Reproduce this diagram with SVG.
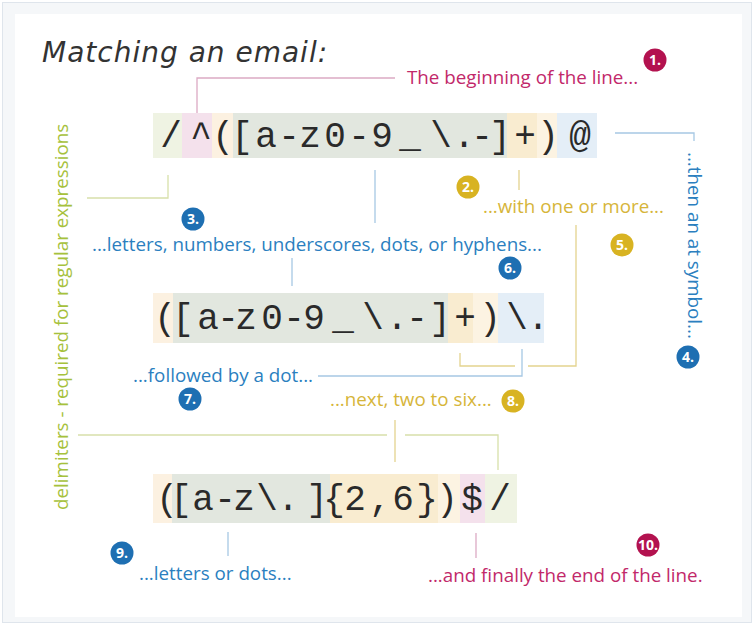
<svg xmlns="http://www.w3.org/2000/svg" width="756" height="627" viewBox="0 0 756 627">
<style>
.code{font-family:"Liberation Mono","DejaVu Sans Mono",monospace;font-size:36px;fill:#2a2a2a;text-anchor:middle}
.lbl{font-family:"Open Sans","DejaVu Sans",sans-serif;font-size:18.8px}
.pink{fill:#c2286a}.blue{fill:#2b7fbf}.yel{fill:#d6b53a}.grn{fill:#a6c13c}
.bt{font-family:"Open Sans","DejaVu Sans",sans-serif;font-size:14px;font-weight:bold;fill:#fff;text-anchor:middle}
.ln{fill:none;stroke-width:1.3}
.lp{stroke:#dcaac4}.lb{stroke:#a6c8e4}.ly{stroke:#e4d38e}.lg{stroke:#d8e0aa}
</style>
<rect x="2.5" y="2.5" width="749" height="620" fill="#f5f7f9" stroke="#dfe5ec"/>
<rect x="15" y="14" width="727" height="603" fill="#ffffff"/>
<g id="title"><text x="42" y="62" font-family="DejaVu Sans, sans-serif" font-size="28" letter-spacing="1" fill="#333" font-style="italic">Matching an email:</text></g>
<g id="connectors">
<path class="ln lp" d="M197,113 V78 H395"/>
<path class="ln lb" d="M615,133 H694 V141"/>
<path class="ln ly" d="M519,170 V190"/>
<path class="ln lb" d="M375,170 V223"/>
<path class="ln lg" d="M168,175 V198 H87"/>
<path class="ln lb" d="M292,258 V286"/>
<path class="ln ly" d="M576,225 V366 H528 M515,366 H460 V353"/>
<path class="ln lb" d="M522,349 V376 H318"/>
<path class="ln ly" d="M395,420 V462"/>
<path class="ln lg" d="M78,435 H387 M405,435 H498 V470"/>
<path class="ln lb" d="M228,532 V556"/>
<path class="ln lp" d="M476,533 V558"/>
</g>
<g id="row1">
<rect x="153" y="113" width="29" height="45" fill="#eff3e3"/>
<rect x="182" y="113" width="30" height="45" fill="#f4e1ec"/>
<rect x="212" y="113" width="21" height="45" fill="#fcf1e1"/>
<rect x="233" y="113" width="274" height="45" fill="#e2e7df"/>
<rect x="507" y="113" width="30" height="45" fill="#f9ecd0"/>
<rect x="537" y="113" width="20" height="45" fill="#fcf3e2"/>
<rect x="557" y="113" width="40" height="45" fill="#e4eef7"/>
<text class="code" y="147" x="171 201 223 242 266 289 310 335 359 382 410 441 464 482 500 525 548 580">/^([a-z0-9_\.-]+)@</text>
</g>
<g id="row2">
<rect x="153" y="293" width="20" height="50" fill="#fcf1e1"/>
<rect x="173" y="293" width="275" height="50" fill="#e2e7df"/>
<rect x="448" y="293" width="25" height="50" fill="#f9ecd0"/>
<rect x="473" y="293" width="25" height="50" fill="#fcf3e2"/>
<rect x="498" y="293" width="46" height="50" fill="#e4eef7"/>
<text class="code" y="329" x="165 183 208 228 246 272 294 314 343 373 397 417 440 465 490 517 538">([a-z0-9_\.-]+)\.</text>
</g>
<g id="row3">
<rect x="153" y="474" width="19" height="49" fill="#fcf1e1"/>
<rect x="172" y="474" width="158" height="49" fill="#e2e7df"/>
<rect x="330" y="474" width="108" height="49" fill="#f9ecd0"/>
<rect x="438" y="474" width="22" height="49" fill="#fcf3e2"/>
<rect x="460" y="474" width="25" height="49" fill="#f4e1ec"/>
<rect x="485" y="474" width="32" height="49" fill="#eff3e3"/>
<text class="code" y="510" x="167 181 203 225 244 267 288 317 334 355 380 403 427 447 472 500">([a-z\.]{2,6})$/</text>
</g>
<g id="label1"><text class="lbl pink" x="407" y="84">The beginning of the line...</text><circle cx="655" cy="60" r="11.5" fill="#b3124f"/><text class="bt" x="655" y="65">1.</text></g>
<g id="label2"><text class="lbl yel" x="483" y="213">...with one or more...</text><circle cx="468" cy="187" r="11.5" fill="#d8b322"/><text class="bt" x="468" y="192">2.</text></g>
<g id="label3"><text class="lbl blue" x="92" y="251">...letters, numbers, underscores, dots, or hyphens...</text><circle cx="193" cy="219" r="11.5" fill="#1e6fb2"/><text class="bt" x="193" y="224">3.</text></g>
<g id="label4"><text class="lbl blue" transform="translate(688,152) rotate(90)">...then an at symbol...</text><circle cx="688" cy="357" r="11.5" fill="#1e6fb2"/><text class="bt" x="688" y="362">4.</text></g>
<g id="label5"><circle cx="622" cy="245" r="11.5" fill="#d8b322"/><text class="bt" x="622" y="250">5.</text></g>
<g id="label6"><circle cx="510" cy="268" r="11.5" fill="#1e6fb2"/><text class="bt" x="510" y="273">6.</text></g>
<g id="label7"><text class="lbl blue" x="133" y="382">...followed by a dot...</text><circle cx="190" cy="399" r="11.5" fill="#1e6fb2"/><text class="bt" x="190" y="404">7.</text></g>
<g id="label8"><text class="lbl yel" x="330" y="406">...next, two to six...</text><circle cx="513" cy="401" r="11.5" fill="#d8b322"/><text class="bt" x="513" y="406">8.</text></g>
<g id="label9"><text class="lbl blue" x="139" y="580">...letters or dots...</text><circle cx="122" cy="553" r="11.5" fill="#1e6fb2"/><text class="bt" x="122" y="558">9.</text></g>
<g id="label10"><text class="lbl pink" x="428" y="582">...and finally the end of the line.</text><circle cx="648" cy="545" r="11.5" fill="#b3124f"/><text class="bt" x="648" y="549.5" font-size="12">10.</text></g>
<g id="delimiters"><text class="lbl grn" font-size="19.5" transform="translate(68,510) rotate(-90)">delimiters - required for regular expressions</text></g>
</svg>
